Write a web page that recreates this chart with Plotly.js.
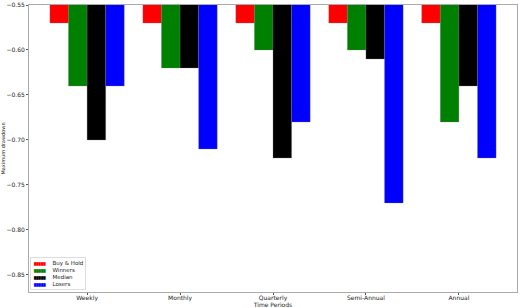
<!DOCTYPE html>
<html>
<head>
<meta charset="utf-8">
<script src="https://cdn.plot.ly/plotly-3.0.1.min.js"></script>
<style>html,body{margin:0;padding:0;background:#fff}#chart{width:521px;height:308px}</style>
</head>
<body>
<div id="chart"></div>
<script>
const categories = ["Weekly", "Monthly", "Quarterly", "Semi-Annual", "Annual"];
const seriesNames = ["Buy & Hold", "Winners", "Median", "Losers"];
const buyHold = [-0.57, -0.57, -0.57, -0.57, -0.57];
const winners = [-0.64, -0.62, -0.60, -0.60, -0.68];
const median = [-0.70, -0.62, -0.72, -0.61, -0.64];
const losers = [-0.64, -0.71, -0.68, -0.77, -0.72];
const yTicks = [-0.85, -0.80, -0.75, -0.70, -0.65, -0.60, -0.55];
const colors = ['#ff0000', '#008000', '#000000', '#0000ff'];

const values = [buyHold, winners, median, losers];
const data = seriesNames.map((n, i) => ({
  type: 'bar', name: n, x: categories, y: values[i],
  marker: {color: colors[i], line: {color: 'rgba(120,120,120,0.6)', width: 0.5}}
}));

const legendText = seriesNames.map((n, i) =>
  '<span style="color:' + colors[i] + ';font-size:3px">█████</span>    ' + n).join('<br>');

const layout = {
  width: 521, height: 308,
  margin: {l: 29, r: 4, t: 5, b: 16},
  paper_bgcolor: '#fff', plot_bgcolor: '#fff',
  barmode: 'group', bargap: 0.2, bargroupgap: 0,
  font: {family: 'DejaVu Sans', size: 6, color: '#222'},
  xaxis: {
    range: [-0.625, 4.625], showgrid: false, zeroline: false,
    showline: true, linecolor: '#aaa', linewidth: 1, mirror: true,
    ticks: 'outside', ticklen: 2, tickcolor: '#555',
    ticklabelstandoff: -2,
    tickfont: {size: 6, color: '#222'},
    title: {text: 'Time Periods', font: {size: 6, color: '#222'}, standoff: 1}
  },
  yaxis: {
    range: [-0.869, -0.55], showgrid: false, zeroline: false,
    showline: true, linecolor: '#aaa', linewidth: 1, mirror: true,
    ticks: 'outside', ticklen: 2, tickcolor: '#555',
    tickvals: yTicks, tickformat: '.2f', tickfont: {size: 6, color: '#222'},
    title: {text: 'Maximum drawdown', font: {size: 5, color: '#222'}, standoff: 3}
  },
  showlegend: false,
  annotations: [{
    xref: 'paper', yref: 'paper', x: 0.003, y: 0.006,
    xanchor: 'left', yanchor: 'bottom', align: 'left', showarrow: false,
    text: legendText, font: {size: 5.5, color: '#222'},
    bgcolor: 'rgba(255,255,255,0.8)', bordercolor: '#ddd', borderwidth: 1, borderpad: 2
  }]
};
Plotly.newPlot('chart', data, layout, {staticPlot: true});
</script>
</body>
</html>
